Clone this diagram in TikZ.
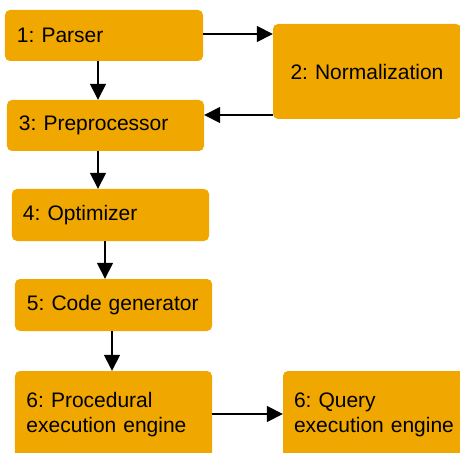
\documentclass[tikz,border=0pt]{standalone}
\usepackage{fontspec}
\setmainfont{Liberation Sans}
\usetikzlibrary{arrows.meta}
\definecolor{boxfill}{RGB}{240,168,0}
\frenchspacing
\hyphenpenalty=10000
\tikzset{
  stage/.style={rectangle, rounded corners=5bp, fill=boxfill, draw=none,
    inner xsep=12bp, inner ysep=0pt, align=left,
    font=\fontsize{21bp}{25bp}\selectfont},
  arr/.style={line width=1.6bp, -{Triangle[length=16bp,width=16bp]}}
}
\begin{document}
\begin{tikzpicture}[x=1bp,y=-1bp]
\useasboundingbox (0,0) rectangle (460,453);
\clip (0,0) rectangle (460,453);
\node[stage, text width=174bp, minimum height=51bp] (b1) at (104,35.5) {1: Parser};
\node[stage, text width=164bp, inner xsep=12bp, minimum height=95bp, align=center] (b2) at (367,71.5) {2: Normalization};
\node[stage, text width=173bp, minimum height=51bp] (b3) at (105.5,125.5) {3: Preprocessor};
\node[stage, text width=175bp, inner xsep=11bp, minimum height=52bp] (b4) at (110.5,215) {4: Optimizer};
\node[stage, text width=173bp, minimum height=52bp] (b5) at (113.5,305) {5: Code generator};
\node[stage, text width=174bp, inner xsep=11.5bp, minimum height=88bp] (b6) at (113.5,415) {6: Procedural\\execution engine};
\node[stage, text width=175bp, inner xsep=11bp, minimum height=88bp] (b7) at (381.5,415) {6: Query\\execution engine};
\coordinate (xa) at (98,0);
\coordinate (xb) at (105,0);
\coordinate (xc) at (112,0);
\coordinate (ya) at (0,34);
\coordinate (yb) at (0,115);
\coordinate (yc) at (0,414);
\draw[arr] (b1.east |- ya) -- (b2.west |- ya);
\draw[arr] (b1.south -| xa) -- (b3.north -| xa);
\draw[arr] (b2.west |- yb) -- (b3.east |- yb);
\draw[arr] (b3.south -| xa) -- (b4.north -| xa);
\draw[arr] (b4.south -| xb) -- (b5.north -| xb);
\draw[arr] (b5.south -| xc) -- (b6.north -| xc);
\draw[arr] (b6.east |- yc) -- (b7.west |- yc);
\end{tikzpicture}
\end{document}
